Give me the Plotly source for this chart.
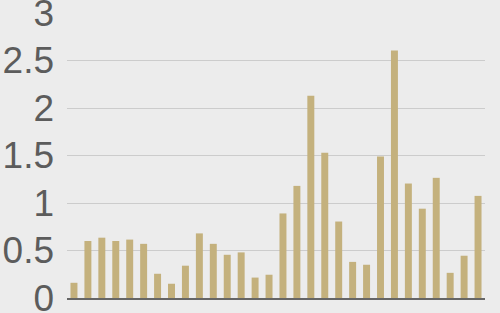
import plotly.graph_objects as go

categories = [str(i) for i in range(1, 31)]
values = [0.16, 0.60, 0.635, 0.60, 0.615, 0.57, 0.255, 0.15, 0.34, 0.68,
          0.57, 0.455, 0.48, 0.215, 0.245, 0.89, 1.18, 2.13, 1.53, 0.805,
          0.38, 0.35, 1.49, 2.605, 1.205, 0.94, 1.265, 0.265, 0.445, 1.075]
tick_vals = [0, 0.5, 1, 1.5, 2, 2.5, 3]
tick_text = ["0", "0.5", "1", "1.5", "2", "2.5", "3"]

fig = go.Figure(go.Bar(x=categories, y=values, marker_color="#c4b17d",
                       marker_line_width=0))
fig.update_layout(
    width=500, height=313,
    margin=dict(l=67, r=15, t=13, b=15, autoexpand=False),
    paper_bgcolor="#ececec", plot_bgcolor="#ececec",
    bargap=0.5, showlegend=False,
    font=dict(family="Liberation Sans, Arial, sans-serif"),
)
fig.update_xaxes(showticklabels=False, showgrid=False, showline=True,
                 linecolor="#666666", linewidth=1.5, ticks="", zeroline=False,
                 automargin=False)
fig.update_yaxes(range=[0, 3], tickvals=tick_vals, ticktext=tick_text,
                 showgrid=True, gridcolor="#cccccc", gridwidth=1,
                 zeroline=False, ticks="", ticklabelstandoff=12,
                 ticklabeloverflow="allow", automargin=False,
                 tickfont=dict(size=37, color="#5c5c5c",
                               family="Liberation Sans, Arial, sans-serif"))
fig.write_html("out.html")
